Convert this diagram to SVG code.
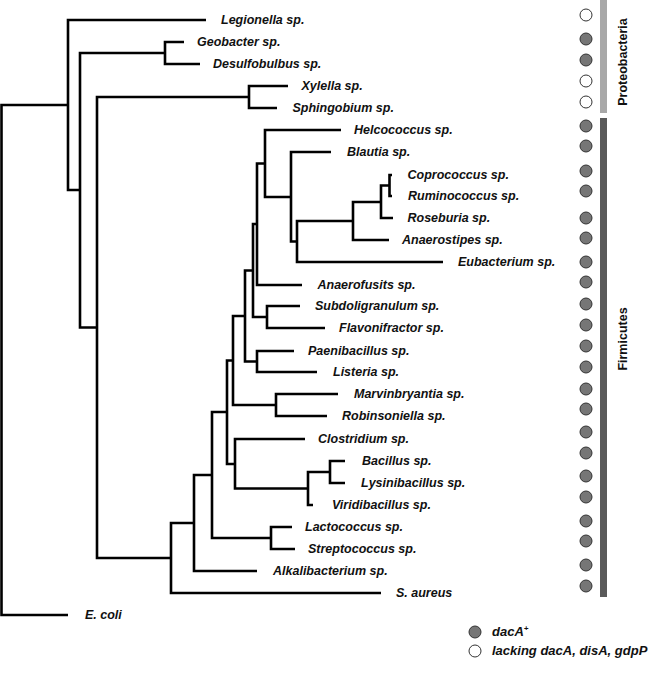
<svg xmlns="http://www.w3.org/2000/svg" width="650" height="685" viewBox="0 0 650 685">
<style>
.tree path{fill:none;stroke:#000;stroke-width:2.6;stroke-linejoin:miter;stroke-linecap:butt}
.lbl{font-family:"Liberation Sans",Arial,sans-serif;font-weight:bold;font-style:italic;font-size:12.5px;fill:#111}
.grp{font-family:"Liberation Sans",Arial,sans-serif;font-weight:bold;font-size:12.5px;fill:#111}
.pos{fill:#767676;stroke:#333;stroke-width:1}
.neg{fill:#fff;stroke:#333;stroke-width:1}
</style>
<rect width="650" height="685" fill="#fff"/>
<g id="connectors" class="tree">
<path d="M392 175 H389.5 V196 H392"/>
<path d="M389.5 185.5 H381 V218 H393"/>
<path d="M381 202 H353 V240 H389"/>
<path d="M353 221 H297 V262 H443"/>
<path d="M331 152 H291 V241.5 H297"/>
<path d="M341 130 H265 V197 H291"/>
<path d="M265 163.5 H257 V285 H302"/>
<path d="M300 306 H267 V328 H325"/>
<path d="M257 224 H253 V317 H267"/>
<path d="M294 351 H257 V372 H317"/>
<path d="M253 270.5 H245 V361.5 H257"/>
<path d="M338 394 H276 V416 H327"/>
<path d="M245 316 H233 V405 H276"/>
<path d="M345 461 H330 V483 H345"/>
<path d="M330 472 H308 V505 H313"/>
<path d="M305 439 H235 V488.5 H308"/>
<path d="M233 360.5 H227 V464 H235"/>
<path d="M292 527 H271 V549 H295"/>
<path d="M227 412 H212 V538 H271"/>
<path d="M212 475 H194 V571 H257"/>
<path d="M194 523 H171 V593 H381"/>
<path d="M288 86 H249 V108 H277"/>
<path d="M249 97 H97 V558 H171"/>
<path d="M184 42 H165 V64 H200"/>
<path d="M165 53 H80 V327.5 H97"/>
<path d="M206 20 H68 V190 H80"/>
<path d="M68 105 H1.5 V615 H68"/>
</g>
<g id="legionella"><text class="lbl" x="221" y="24">Legionella sp.</text><circle class="neg" cx="586" cy="15" r="6"/></g>
<g id="geobacter"><text class="lbl" x="197" y="46">Geobacter sp.</text><circle class="pos" cx="586" cy="39" r="6"/></g>
<g id="desulfobulbus"><text class="lbl" x="213" y="68">Desulfobulbus sp.</text><circle class="pos" cx="586" cy="60" r="6"/></g>
<g id="xylella"><text class="lbl" x="301.5" y="90">Xylella sp.</text><circle class="neg" cx="586" cy="81" r="6"/></g>
<g id="sphingobium"><text class="lbl" x="292.5" y="112">Sphingobium sp.</text><circle class="neg" cx="586" cy="102" r="6"/></g>
<g id="helcococcus"><text class="lbl" x="354" y="134">Helcococcus sp.</text><circle class="pos" cx="586" cy="126" r="6"/></g>
<g id="blautia"><text class="lbl" x="347" y="156">Blautia sp.</text><circle class="pos" cx="586" cy="146" r="6"/></g>
<g id="coprococcus"><text class="lbl" x="407.5" y="179">Coprococcus sp.</text><circle class="pos" cx="586" cy="171" r="6"/></g>
<g id="ruminococcus"><text class="lbl" x="408" y="200">Ruminococcus sp.</text><circle class="pos" cx="586" cy="191" r="6"/></g>
<g id="roseburia"><text class="lbl" x="407.5" y="222">Roseburia sp.</text><circle class="pos" cx="586" cy="218" r="6"/></g>
<g id="anaerostipes"><text class="lbl" x="402" y="244">Anaerostipes sp.</text><circle class="pos" cx="586" cy="238" r="6"/></g>
<g id="eubacterium"><text class="lbl" x="458" y="266">Eubacterium sp.</text><circle class="pos" cx="586" cy="262" r="6"/></g>
<g id="anaerofusits"><text class="lbl" x="317.5" y="289">Anaerofusits sp.</text><circle class="pos" cx="586" cy="282" r="6"/></g>
<g id="subdoligranulum"><text class="lbl" x="315" y="310">Subdoligranulum sp.</text><circle class="pos" cx="586" cy="304" r="6"/></g>
<g id="flavonifractor"><text class="lbl" x="339" y="332">Flavonifractor sp.</text><circle class="pos" cx="586" cy="325" r="6"/></g>
<g id="paenibacillus"><text class="lbl" x="308" y="355">Paenibacillus sp.</text><circle class="pos" cx="586" cy="346" r="6"/></g>
<g id="listeria"><text class="lbl" x="333" y="376">Listeria sp.</text><circle class="pos" cx="586" cy="367" r="6"/></g>
<g id="marvinbryantia"><text class="lbl" x="354" y="398">Marvinbryantia sp.</text><circle class="pos" cx="586" cy="389" r="6"/></g>
<g id="robinsoniella"><text class="lbl" x="342" y="420">Robinsoniella sp.</text><circle class="pos" cx="586" cy="409" r="6"/></g>
<g id="clostridium"><text class="lbl" x="318" y="443">Clostridium sp.</text><circle class="pos" cx="586" cy="432" r="6"/></g>
<g id="bacillus"><text class="lbl" x="362" y="465">Bacillus sp.</text><circle class="pos" cx="586" cy="453" r="6"/></g>
<g id="lysinibacillus"><text class="lbl" x="361" y="487">Lysinibacillus sp.</text><circle class="pos" cx="586" cy="476" r="6"/></g>
<g id="viridibacillus"><text class="lbl" x="332" y="509">Viridibacillus sp.</text><circle class="pos" cx="586" cy="497" r="6"/></g>
<g id="lactococcus"><text class="lbl" x="305" y="531">Lactococcus sp.</text><circle class="pos" cx="586" cy="521" r="6"/></g>
<g id="streptococcus"><text class="lbl" x="308" y="553">Streptococcus sp.</text><circle class="pos" cx="586" cy="541" r="6"/></g>
<g id="alkalibacterium"><text class="lbl" x="273" y="575">Alkalibacterium sp.</text><circle class="pos" cx="586" cy="565" r="6"/></g>
<g id="saureus"><text class="lbl" x="396" y="597">S. aureus</text><circle class="pos" cx="586" cy="586" r="6"/></g>
<g id="ecoli"><text class="lbl" x="85" y="619">E. coli</text></g>
<g id="proteobacteria">
<rect x="600" y="0" width="7" height="113" fill="#a8a8a8"/>
<text class="grp" transform="translate(626.5 62) rotate(-90)" text-anchor="middle">Proteobacteria</text>
</g>
<g id="firmicutes">
<rect x="600" y="118" width="7" height="479" fill="#5a5a5a"/>
<text class="grp" transform="translate(626.5 339) rotate(-90)" text-anchor="middle">Firmicutes</text>
</g>
<g id="legend">
<circle class="pos" cx="475" cy="632" r="6"/>
<text class="lbl" x="492" y="636" style="font-size:13px">dacA<tspan dy="-5" style="font-size:8px">+</tspan></text>
<circle class="neg" cx="475" cy="651" r="6"/>
<text class="lbl" x="492" y="655" style="font-size:13px">lacking dacA, disA, gdpP</text>
</g>
</svg>
